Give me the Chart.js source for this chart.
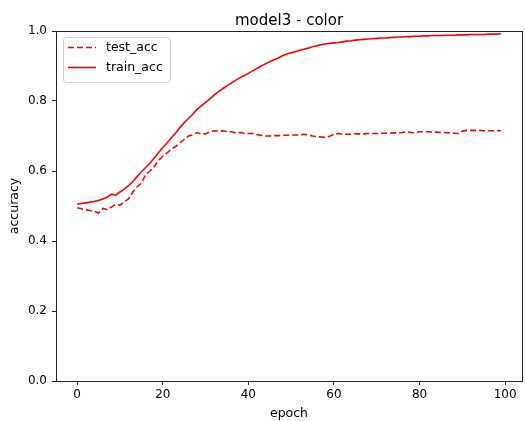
<!DOCTYPE html>
<html>
<head>
<meta charset="utf-8">
<script src="https://cdn.jsdelivr.net/npm/chart.js@4"></script>
<style>
  html, body { margin: 0; padding: 0; background: #fff; }
  #wrap { width: 525px; height: 421px; }
</style>
</head>
<body>
<div id="wrap"><canvas id="c" width="525" height="421"></canvas></div>
<script>
const chartTitle = "model3 - color";
const xLabel = "epoch";
const yLabel = "accuracy";
const xTicks = [0, 20, 40, 60, 80, 100];
const yTicks = [0.0, 0.2, 0.4, 0.6, 0.8, 1.0];
const seriesNames = ["test_acc", "train_acc"];

const testAcc = [
  0.495, 0.492, 0.489, 0.487, 0.485, 0.480, 0.493, 0.490, 0.497, 0.505,
  0.502, 0.512, 0.520, 0.540, 0.555, 0.565, 0.590, 0.600, 0.612, 0.630,
  0.642, 0.652, 0.662, 0.670, 0.680, 0.690, 0.700, 0.703, 0.710, 0.706,
  0.706, 0.712, 0.715, 0.714, 0.715, 0.713, 0.712, 0.709, 0.710, 0.708,
  0.707, 0.707, 0.704, 0.702, 0.700, 0.700, 0.701, 0.701, 0.702, 0.702,
  0.702, 0.703, 0.703, 0.705, 0.703, 0.700, 0.698, 0.697, 0.696, 0.699,
  0.705, 0.707, 0.705, 0.705, 0.705, 0.706, 0.706, 0.706, 0.707, 0.707,
  0.707, 0.708, 0.708, 0.708, 0.709, 0.709, 0.710, 0.712, 0.710, 0.709,
  0.712, 0.712, 0.712, 0.711, 0.711, 0.710, 0.710, 0.709, 0.708, 0.707,
  0.714, 0.716, 0.716, 0.716, 0.716, 0.715, 0.715, 0.715, 0.715, 0.715
];
const trainAcc = [
  0.505, 0.507, 0.509, 0.511, 0.513, 0.516, 0.520, 0.525, 0.534, 0.531,
  0.540, 0.548, 0.558, 0.570, 0.584, 0.598, 0.610, 0.622, 0.637, 0.652,
  0.667, 0.680, 0.695, 0.708, 0.724, 0.738, 0.750, 0.762, 0.776, 0.786,
  0.796, 0.806, 0.817, 0.827, 0.835, 0.843, 0.851, 0.859, 0.866, 0.872,
  0.879, 0.886, 0.893, 0.900, 0.906, 0.912, 0.918, 0.923, 0.929, 0.934,
  0.938, 0.941, 0.945, 0.948, 0.951, 0.955, 0.958, 0.961, 0.963, 0.965,
  0.966, 0.967, 0.969, 0.971, 0.972, 0.974, 0.975, 0.976, 0.977, 0.978,
  0.979, 0.980, 0.980, 0.981, 0.982, 0.983, 0.983, 0.984, 0.984, 0.985,
  0.985, 0.986, 0.986, 0.987, 0.987, 0.987, 0.988, 0.988, 0.988, 0.989,
  0.989, 0.989, 0.990, 0.990, 0.990, 0.990, 0.991, 0.991, 0.991, 0.992
];
const epochs = trainAcc.map((_, i) => i);

const FONT = "'DejaVu Sans', sans-serif";
const lineColor = "#ff0000";
const dashPattern = [6, 3];

const toPoints = arr => arr.map((v, i) => ({ x: epochs[i], y: v }));

const framePlugin = {
  id: "frame",
  afterDraw(chart) {
    const { ctx, chartArea: a } = chart;
    ctx.save();
    ctx.strokeStyle = "#222";
    ctx.lineWidth = 1;
    ctx.strokeRect(Math.round(a.left) + 0.5, Math.round(a.top) + 0.5,
                   Math.round(a.right - a.left), Math.round(a.bottom - a.top));
    // title centered over plot area
    ctx.fillStyle = "#000";
    ctx.font = "15px " + FONT;
    ctx.textAlign = "center";
    ctx.textBaseline = "alphabetic";
    ctx.fillText(chartTitle, (a.left + a.right) / 2, 25);
    ctx.restore();
  },
  afterDatasetsDraw(chart) {
    const { ctx, chartArea: a } = chart;
    const x0 = a.left + 7, y0 = a.top + 6, w = 107, h = 45;
    ctx.save();
    ctx.fillStyle = "rgba(255,255,255,0.8)";
    ctx.strokeStyle = "#d0d0d0";
    ctx.lineWidth = 1;
    ctx.beginPath();
    if (ctx.roundRect) ctx.roundRect(x0 + 0.5, y0 + 0.5, w, h, 3);
    else ctx.rect(x0 + 0.5, y0 + 0.5, w, h);
    ctx.fill();
    ctx.stroke();
    ctx.font = "12.5px " + FONT;
    ctx.textAlign = "left";
    ctx.textBaseline = "middle";
    const rows = [
      { name: seriesNames[0], dash: dashPattern, y: 47.5 },
      { name: seriesNames[1], dash: [], y: 67.5 }
    ];
    rows.forEach(r => {
      ctx.strokeStyle = lineColor;
      ctx.lineWidth = 1.6;
      ctx.setLineDash(r.dash);
      ctx.beginPath();
      ctx.moveTo(68, r.y);
      ctx.lineTo(96, r.y);
      ctx.stroke();
      ctx.setLineDash([]);
      ctx.fillStyle = "#000";
      ctx.fillText(r.name, 106, r.y);
    });
    ctx.restore();
  }
};

new Chart(document.getElementById("c"), {
  type: "line",
  data: {
    datasets: [
      {
        label: seriesNames[0],
        data: toPoints(testAcc),
        borderColor: lineColor,
        borderWidth: 1.6,
        borderDash: dashPattern,
        pointRadius: 0,
        fill: false,
        tension: 0
      },
      {
        label: seriesNames[1],
        data: toPoints(trainAcc),
        borderColor: lineColor,
        borderWidth: 1.6,
        pointRadius: 0,
        fill: false,
        tension: 0
      }
    ]
  },
  options: {
    responsive: false,
    animation: false,
    devicePixelRatio: 1,
    layout: { padding: { left: 7, right: 3, top: 31, bottom: 0 } },
    plugins: {
      legend: { display: false },
      title: { display: false },
      tooltip: { enabled: false }
    },
    scales: {
      x: {
        type: "linear",
        min: -4.95,
        max: 103.95,
        afterFit(s) { s.height = 40; },
        afterBuildTicks(s) { s.ticks = xTicks.map(v => ({ value: v })); },
        ticks: {
          includeBounds: false,
          autoSkip: false,
          maxRotation: 0,
          padding: 3,
          color: "#000",
          font: { family: FONT, size: 12 },
          callback: v => String(v)
        },
        grid: {
          display: true,
          drawOnChartArea: false,
          drawTicks: true,
          tickLength: 4,
          color: "#222",
          lineWidth: 1
        },
        border: { display: true, color: "#222", width: 1 },
        title: {
          display: true,
          text: xLabel,
          color: "#000",
          padding: 0,
          font: { family: FONT, size: 12.5 }
        }
      },
      y: {
        type: "linear",
        min: 0,
        max: 1,
        afterFit(s) { s.width = 49; },
        afterBuildTicks(s) { s.ticks = yTicks.map(v => ({ value: v })); },
        ticks: {
          includeBounds: false,
          autoSkip: false,
          padding: 5,
          color: "#000",
          font: { family: FONT, size: 12 },
          callback: v => Number(v).toFixed(1)
        },
        grid: {
          display: true,
          drawOnChartArea: false,
          drawTicks: true,
          tickLength: 4,
          color: "#222",
          lineWidth: 1
        },
        border: { display: true, color: "#222", width: 1 },
        title: {
          display: true,
          text: yLabel,
          color: "#000",
          padding: 0,
          font: { family: FONT, size: 12.5 }
        }
      }
    }
  },
  plugins: [framePlugin]
});
</script>
</body>
</html>
